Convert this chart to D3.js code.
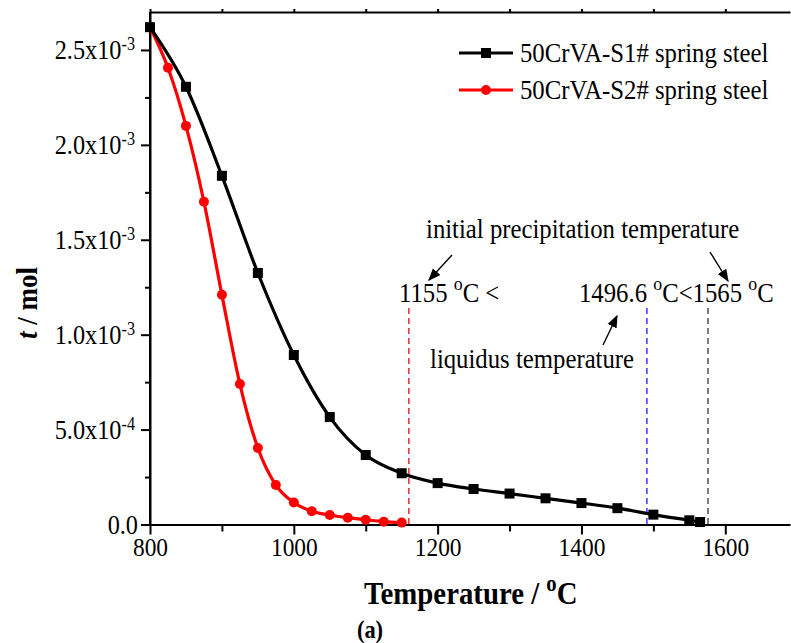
<!DOCTYPE html>
<html>
<head>
<meta charset="utf-8">
<script src="https://cdn.jsdelivr.net/npm/d3@7/dist/d3.min.js"></script>
<style>
  body { margin: 0; background: #fff; }
  svg { display: block; }
  svg text { font-family: "Liberation Serif", "Times New Roman", serif; }
  .axis path, .axis line { stroke: #000; stroke-width: 2; }
</style>
</head>
<body>
<svg id="chart" width="791" height="643"></svg>
<script>
// temperatures (°C) and amounts (mol)
const s1Temp = [800, 850, 900, 950, 1000, 1050, 1100, 1150, 1200, 1250, 1300, 1350, 1400, 1450, 1500, 1550, 1565];
const s1Mol = [2.62e-3, 2.306e-3, 1.837e-3, 1.325e-3, 0.893e-3, 0.566e-3, 0.366e-3, 0.27e-3, 0.218e-3, 0.187e-3,
  0.163e-3, 0.138e-3, 0.113e-3, 0.086e-3, 0.052e-3, 0.022e-3, 0.013e-3];
const s2Temp = [800, 825, 850, 875, 900, 925, 950, 975, 1000, 1025, 1050, 1075, 1100, 1125, 1150];
const s2Mol = [2.62e-3, 2.406e-3, 2.10e-3, 1.70e-3, 1.21e-3, 0.74e-3, 0.403e-3, 0.208e-3, 0.116e-3, 0.07e-3,
  0.05e-3, 0.036e-3, 0.025e-3, 0.015e-3, 0.01e-3];
const seriesNames = ["50CrVA-S1# spring steel", "50CrVA-S2# spring steel"];
const xMajor = [800, 1000, 1200, 1400, 1600];
const xMinor = [900, 1100, 1300, 1500];
const yMajor = [0, 5e-4, 1e-3, 1.5e-3, 2e-3, 2.5e-3];
const yMinor = [2.5e-4, 7.5e-4, 1.25e-3, 1.75e-3, 2.25e-3];
// dashed markers as they sit in the figure
const markLines = [
  { t: 1160, color: "#e31a1c" },
  { t: 1491, color: "#2b2bff" },
  { t: 1576, color: "#444" }
];

const SX = 0.9; // the source figure's lettering is slightly condensed
const svg = d3.select("#chart");
const x = d3.scaleLinear().domain([800, 1690]).range([150, 790]);
const y = d3.scaleLinear().domain([0, 2.7e-3]).range([524.5, 12]);

// text placed at (px,py), condensed horizontally
function label(g, px, py, size) {
  return g.append("text")
    .attr("transform", `translate(${px},${py}) scale(${SX},1)`)
    .attr("font-size", size).attr("fill", "#000");
}
function supParts(t, parts, size) {
  parts.forEach(p => {
    if (p.sup) {
      t.append("tspan").attr("dy", -size * 0.42).attr("font-size", size * 0.72).text(p.s);
    } else {
      const ts = t.append("tspan").text(p.s);
      if (p.after) ts.attr("dy", size * 0.42);
    }
  });
  return t;
}

// top frame line with faint ticks
svg.append("g").attr("class", "axis")
  .attr("transform", `translate(0,${y(2.7e-3)})`)
  .call(d3.axisTop(x).tickValues(xMajor.concat(xMinor)).tickSize(3).tickSizeOuter(0).tickFormat(""))
  .call(g => g.selectAll(".tick line").attr("stroke", "#999").attr("stroke-width", 1));

// x axis
const xAxis = svg.append("g").attr("class", "axis").attr("transform", `translate(0,${y(0)})`);
xAxis.call(d3.axisBottom(x).tickValues(xMinor).tickSize(7).tickSizeOuter(0).tickFormat(""));
xAxis.append("g").call(d3.axisBottom(x).tickValues(xMajor).tickSize(10).tickSizeOuter(0).tickFormat(""))
  .call(g => g.select(".domain").remove());
xAxis.selectAll(".tick").filter(d => xMajor.includes(d)).each(function (d) {
  label(d3.select(this), 0, 31, 26).attr("text-anchor", "middle").text(d);
});

// y axis
const yAxis = svg.append("g").attr("class", "axis").attr("transform", `translate(${x(800)},0)`);
yAxis.call(d3.axisLeft(y).tickValues(yMinor).tickSize(5).tickSizeOuter(0).tickFormat(""));
yAxis.append("g").call(d3.axisLeft(y).tickValues(yMajor).tickSize(9).tickSizeOuter(0).tickFormat(""))
  .call(g => g.select(".domain").remove());
yAxis.selectAll(".tick").filter(d => yMajor.includes(d)).each(function (d) {
  const t = label(d3.select(this), d === 0 ? -12 : -15, 9, 27).attr("text-anchor", "end");
  if (d === 0) { t.text("0.0"); return; }
  const exp = Math.floor(Math.log10(d));
  const mant = d / Math.pow(10, exp);
  t.append("tspan").text(mant.toFixed(1) + "x10");
  t.append("tspan").attr("dy", "-0.5em").attr("font-size", 18).text(exp);
});
svg.append("line").attr("x1", x(800)).attr("x2", x(800)).attr("y1", y(2.7e-3)).attr("y2", y(0))
  .attr("stroke", "#000").attr("stroke-width", 2);

// dashed reference lines
svg.append("g").selectAll("line").data(markLines).join("line")
  .attr("x1", d => x(d.t)).attr("x2", d => x(d.t))
  .attr("y1", y(1.14e-3)).attr("y2", y(0))
  .attr("stroke", d => d.color).attr("stroke-width", 1.4).attr("stroke-dasharray", "6,4");

const line = d3.line().x(d => x(d[0])).y(d => y(d[1])).curve(d3.curveMonotoneX);
const s1 = s1Temp.map((t, i) => [t, s1Mol[i]]);
const s2 = s2Temp.map((t, i) => [t, s2Mol[i]]);

svg.append("path").datum(s2).attr("d", line)
  .attr("fill", "none").attr("stroke", "#ff0000").attr("stroke-width", 3.2);
svg.append("g").selectAll("circle").data(s2).join("circle")
  .attr("cx", d => x(d[0])).attr("cy", d => y(d[1])).attr("r", 5).attr("fill", "#ff0000");

svg.append("path").datum(s1).attr("d", line)
  .attr("fill", "none").attr("stroke", "#000").attr("stroke-width", 3.2);
svg.append("g").selectAll("rect").data(s1).join("rect")
  .attr("x", d => x(d[0]) - 5).attr("y", d => y(d[1]) - 5).attr("width", 10).attr("height", 10).attr("fill", "#000");

// legend
const legend = svg.append("g").attr("transform", "translate(459,53)");
[["#000", "square"], ["#ff0000", "circle"]].forEach(([c, shape], i) => {
  const row = legend.append("g").attr("transform", `translate(0,${i * 37})`);
  row.append("line").attr("x1", 0).attr("x2", 54).attr("stroke", c).attr("stroke-width", 3.2);
  if (shape === "square") row.append("rect").attr("x", 22).attr("y", -5).attr("width", 10).attr("height", 10).attr("fill", c);
  else row.append("circle").attr("cx", 27).attr("r", 5).attr("fill", c);
  label(row, 61, 9, 27.5).text(seriesNames[i]);
});

// annotations
const ann = svg.append("g");
label(ann, 426, 238, 27.5).text("initial precipitation temperature");
supParts(label(ann, 399, 302, 27.5), [{ s: "1155 " }, { s: "o", sup: true }, { s: "C <", after: true }], 27.5);
supParts(label(ann, 579, 302, 27.5),
  [{ s: "1496.6 " }, { s: "o", sup: true }, { s: "C<1565 ", after: true }, { s: "o", sup: true }, { s: "C", after: true }], 27.5);
label(ann, 430, 368, 27.5).text("liquidus temperature");

const defs = svg.append("defs");
defs.append("marker").attr("id", "arr").attr("viewBox", "0 0 10 10").attr("refX", 9).attr("refY", 5)
  .attr("markerWidth", 9).attr("markerHeight", 9).attr("orient", "auto")
  .append("path").attr("d", "M0,1 L10,5 L0,9 Z").attr("fill", "#000");
const arrows = [[452, 255, 429, 280], [710, 252, 728, 281], [603, 345, 617, 316]];
ann.selectAll("line.arr").data(arrows).join("line").attr("class", "arr")
  .attr("x1", d => d[0]).attr("y1", d => d[1]).attr("x2", d => d[2]).attr("y2", d => d[3])
  .attr("stroke", "#000").attr("stroke-width", 1.4).attr("marker-end", "url(#arr)");

// axis titles
supParts(label(svg, 364, 604, 32).attr("font-weight", "bold"),
  [{ s: "Temperature / " }, { s: "o", sup: true }, { s: "C", after: true }], 32);
label(svg, 370, 638, 25).attr("text-anchor", "middle").attr("font-weight", "bold").text("(a)");
const yt = svg.append("text").attr("transform", "translate(37,303) rotate(-90) scale(0.9,1)")
  .attr("text-anchor", "middle").attr("font-weight", "bold").attr("font-size", 30);
yt.append("tspan").attr("font-style", "italic").text("t");
yt.append("tspan").text(" / mol");
</script>
</body>
</html>
